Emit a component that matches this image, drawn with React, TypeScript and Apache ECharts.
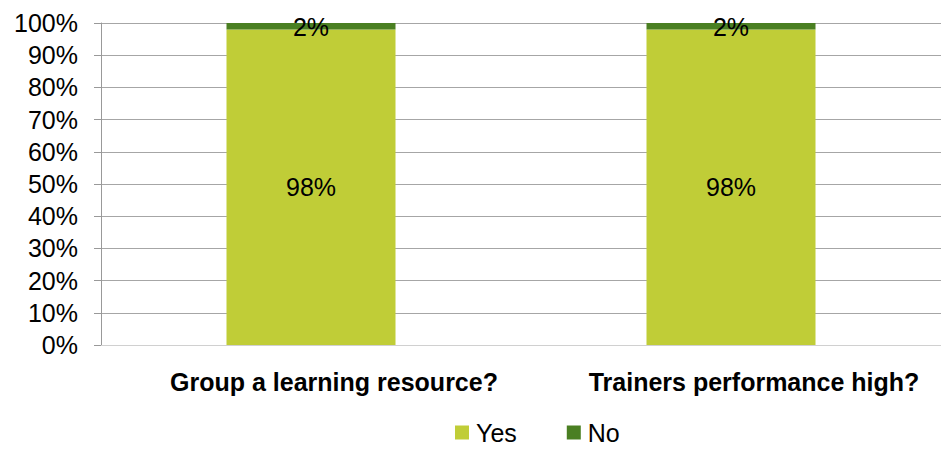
import React, { useEffect, useRef } from "react";
import * as echarts from "echarts";

const categories = ["Group a learning resource?", "Trainers performance high?"];
const yesValues = [98, 98];
const noValues = [2, 2];
const yTicks = [0, 10, 20, 30, 40, 50, 60, 70, 80, 90, 100];

export default function App() {
  const ref = useRef<HTMLDivElement>(null);
  useEffect(() => {
    if (!ref.current) return;
    const chart = echarts.init(ref.current, null, { renderer: "svg" });
    const font = "'Liberation Sans', Arial, sans-serif";
    chart.setOption({
      animation: false,
      textStyle: { fontFamily: font },
      grid: { left: 101, width: 844, top: 23, height: 322, containLabel: false },
      legend: {
        top: 415,
        left: 450,
        itemWidth: 14,
        itemHeight: 14,
        itemGap: 50,
        icon: "rect",
        textStyle: { fontSize: 25, color: "#000", fontFamily: font, padding: [0, 0, 0, 2] },
        data: ["Yes", "No"],
      },
      xAxis: {
        type: "category",
        data: categories,
        axisLine: { lineStyle: { color: "#d0d0d0", width: 1 } },
        axisTick: { show: false },
        axisLabel: {
          interval: 0,
          hideOverlap: false,
          fontSize: 25,
          fontWeight: "bold",
          color: "#000",
          margin: 24,
          padding: [0, 0, 0, 46],
          fontFamily: font,
        },
      },
      yAxis: {
        type: "value",
        min: 0,
        max: 100,
        interval: 10,
        axisLine: { show: true, lineStyle: { color: "#999", width: 1 } },
        axisTick: { show: true, length: 7, lineStyle: { color: "#999" } },
        splitLine: { lineStyle: { color: "#a6a6a6", width: 1 } },
        axisLabel: {
          fontSize: 25,
          color: "#000",
          margin: 23,
          fontFamily: font,
          formatter: (v: number) => (yTicks.includes(v) ? v + "%" : ""),
        },
      },
      series: [
        {
          name: "Yes",
          type: "bar",
          stack: "total",
          data: yesValues,
          barWidth: 169,
          itemStyle: { color: "#c0cd37" },
          label: {
            show: true,
            position: "inside",
            formatter: "{c}%",
            fontSize: 25,
            color: "#000",
            fontFamily: font,
          },
        },
        {
          name: "No",
          type: "bar",
          stack: "total",
          data: noValues,
          barWidth: 169,
          itemStyle: { color: "#4a7f22" },
          label: {
            show: true,
            position: "inside",
            offset: [0, 1],
            formatter: "{c}%",
            fontSize: 25,
            color: "#000",
            fontFamily: font,
          },
        },
      ],
    });
    return () => chart.dispose();
  }, []);
  return (
    <div
      ref={ref}
      style={{ position: "absolute", left: 0, top: 0, width: 941, height: 450, background: "#fff" }}
    />
  );
}
